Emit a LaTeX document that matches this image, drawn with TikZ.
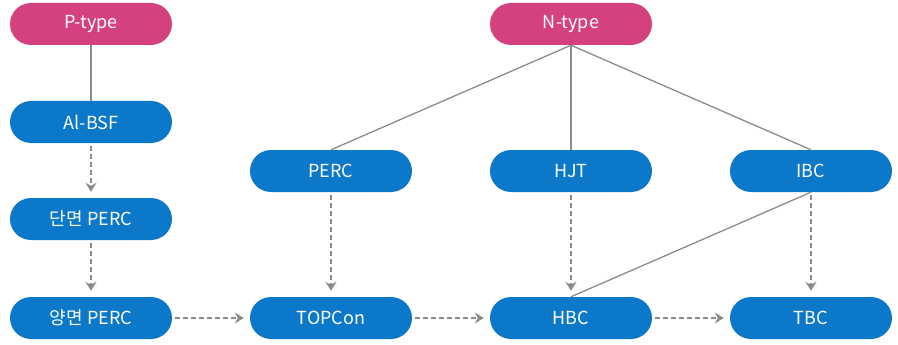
\documentclass[tikz,border=0pt]{standalone}
\usepackage{fontspec}
\setmainfont{Noto Sans CJK KR}
\usepackage{xcolor}
\usetikzlibrary{arrows.meta}
\definecolor{cellblue}{HTML}{0B78C9}
\definecolor{typepink}{HTML}{D5417E}
\definecolor{lnkgray}{HTML}{8C8C8C}

\begin{document}
\begin{tikzpicture}[x=1pt,y=-1pt,>={Stealth[length=9pt,width=11pt,inset=3pt]},
   font=\fontsize{18}{21}\selectfont,
   cell/.style={rectangle,rounded corners=21pt,minimum width=162pt,minimum height=42pt,inner sep=0pt,fill=cellblue,text=white},
   kind/.style={cell,fill=typepink},
   tie/.style={lnkgray,line width=1.3pt},
   flow/.style={->,lnkgray,line width=1.3pt,dash pattern=on 5pt off 3pt,shorten >=6pt,shorten <=3pt}]
  \useasboundingbox (0,0) rectangle (898,345);
  % p-type branch
  \node[kind] (ptype) at (91,24) {P-type};
  \node[cell] (albsf) at (91,122) {Al-BSF};
  \node[cell] (mono) at (91,219) {단면 PERC};
  \node[cell] (bi) at (91,318) {양면 PERC};
  % n-type branch
  \node[kind] (ntype) at (571,24) {N-type};
  \node[cell] (perc) at (331,171) {PERC};
  \node[cell] (hjt) at (571,171) {HJT};
  \node[cell] (ibc) at (811,171) {IBC};
  \node[cell] (topcon) at (331,318) {TOPCon};
  \node[cell] (hbc) at (571,318) {HBC};
  \node[cell] (tbc) at (811,318) {TBC};
  \draw[tie] (ptype) -- (albsf);
  \draw[tie] (ntype.south) -- (perc.north);
  \draw[tie] (ntype.south) -- (hjt.north);
  \draw[tie] (ntype.south) -- (ibc.north);
  \draw[tie] (ibc.south) -- (hbc.north);
  \draw[flow] (albsf) -- (mono); \draw[flow] (mono) -- (bi);
  \draw[flow] (bi) -- (topcon); \draw[flow] (topcon) -- (hbc); \draw[flow] (hbc) -- (tbc);
  \draw[flow] (perc) -- (topcon); \draw[flow] (hjt) -- (hbc); \draw[flow] (ibc) -- (tbc);
\end{tikzpicture}
\end{document}
